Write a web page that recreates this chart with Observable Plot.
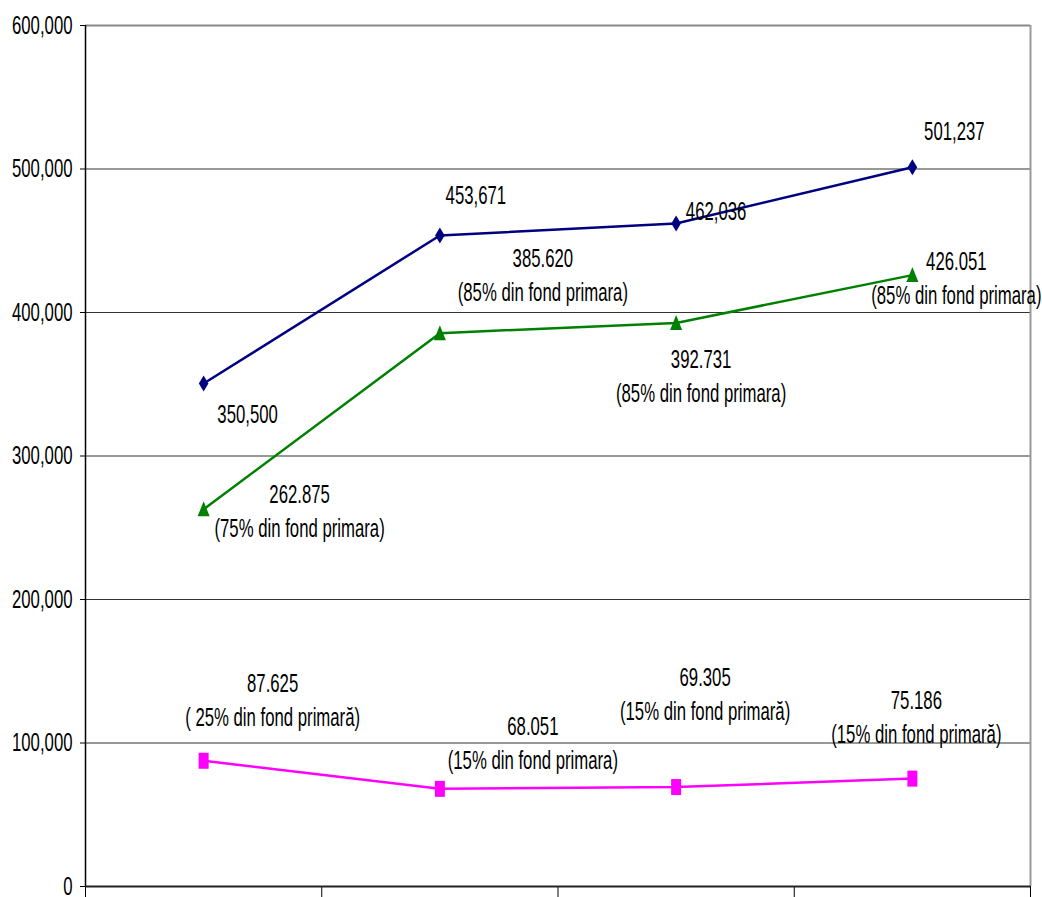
<!DOCTYPE html>
<html><head><meta charset="utf-8">
<script src="https://cdn.jsdelivr.net/npm/d3@7"></script>
<script src="https://cdn.jsdelivr.net/npm/@observablehq/plot@0.6"></script>
<style>
body{margin:0;background:#fff;}
#chart svg{display:block;}
</style>
</head><body><div id="chart"></div>
<script>
// ---- data ----
const categories = ["1", "2", "3", "4"];
const totalValues = [350500, 453671, 462036, 501237];
const primaryValues = [262875, 385620, 392731, 426051];
const secondaryValues = [87625, 68051, 69305, 75186];
const totalLabels = ["350,500", "453,671", "462,036", "501,237"];
const primaryLabels = [
  "262.875\n(75% din fond primara)",
  "385.620\n(85% din fond primara)",
  "392.731\n(85% din fond primara)",
  "426.051\n(85% din fond primara)"
];
const secondaryLabels = [
  "87.625\n( 25% din fond primară)",
  "68.051\n(15% din fond primara)",
  "69.305\n(15% din fond primară)",
  "75.186\n(15% din fond primară)"
];
const yTicks = [0, 100000, 200000, 300000, 400000, 500000, 600000];

// ---- layout (label offsets in px, relative to point) ----
const totalOffsets = [[44, 29], [36, -42], [40, -14], [42, -38]];
const primaryOffsets = [[96, 0], [103, -60], [25, 51], [44, 1]];
const secondaryOffsets = [[69, -63], [93, -48], [29, -95], [4, -63]];

const rows = (vals) => categories.map((c, i) => ({cat: c, x: i + 0.5, v: vals[i]}));
const totalRows = rows(totalValues);
const primaryRows = rows(primaryValues);
const secondaryRows = rows(secondaryValues);

const diamond = {draw(ctx){ctx.moveTo(0,-8);ctx.lineTo(4.8,0);ctx.lineTo(0,8);ctx.lineTo(-4.8,0);ctx.closePath();}};
const triangle = {draw(ctx){ctx.moveTo(0,-8);ctx.lineTo(6,7);ctx.lineTo(-6,7);ctx.closePath();}};
const square = {draw(ctx){ctx.rect(-5,-8,10,16);}};

const FONT = "'Liberation Sans',Arial,sans-serif";
const FS = 25;
const NARROW = 0.67;

function labelMarks(rowsArr, labels, offsets) {
  return rowsArr.map((r, i) => Plot.text([r], {
    x: "x", y: "v", text: () => labels[i],
    dx: offsets[i][0], dy: offsets[i][1],
    fill: "#000", fontSize: FS, lineHeight: 1.36, textAnchor: "middle", lineAnchor: "middle"
  }));
}

const chart = Plot.plot({
  width: 1042, height: 897,
  marginLeft: 85, marginRight: 12, marginTop: 25, marginBottom: 11,
  style: {fontFamily: FONT, fontSize: FS + "px", background: "#fff", color: "#000"},
  x: {type: "linear", domain: [0, 4], axis: null},
  y: {domain: [0, 600000], axis: null},
  marks: [
    Plot.ruleY(yTicks.filter(t => t > 0 && t < 600000), {stroke: "#333", strokeWidth: 1}),
    Plot.ruleY([600000], {stroke: "#888", strokeWidth: 2}),
    Plot.ruleX([4], {stroke: "#999", strokeWidth: 2}),
    Plot.axisY({ticks: yTicks, tickFormat: d3.format(","), tickSize: 5, tickPadding: 8, fontSize: FS, stroke: "#000", label: null}),
    Plot.axisX({ticks: [0, 1, 2, 3, 4], tickFormat: () => "", tickSize: 11, stroke: "#000", label: null}),
    Plot.ruleX([0], {stroke: "#000", strokeWidth: 1.5}),
    Plot.ruleY([0], {stroke: "#222", strokeWidth: 2}),
    Plot.line(totalRows, {x: "x", y: "v", stroke: "#000080", strokeWidth: 2.5}),
    Plot.line(primaryRows, {x: "x", y: "v", stroke: "#008000", strokeWidth: 2.5}),
    Plot.line(secondaryRows, {x: "x", y: "v", stroke: "#ff00ff", strokeWidth: 2.5}),
    Plot.dot(totalRows, {x: "x", y: "v", symbol: diamond, fill: "#000080", stroke: "none"}),
    Plot.dot(primaryRows, {x: "x", y: "v", symbol: triangle, fill: "#008000", stroke: "none"}),
    Plot.dot(secondaryRows, {x: "x", y: "v", symbol: square, fill: "#ff00ff", stroke: "none"}),
    ...labelMarks(totalRows, totalLabels, totalOffsets),
    ...labelMarks(primaryRows, primaryLabels, primaryOffsets),
    ...labelMarks(secondaryRows, secondaryLabels, secondaryOffsets)
  ]
});
// condense text horizontally (narrow, tall sans look of the original)
chart.querySelectorAll("text").forEach(t => {
  const x = +t.getAttribute("x") || 0;
  const tr = t.getAttribute("transform") || "";
  t.setAttribute("transform", `${tr} translate(${x},0) scale(${NARROW},1) translate(${-x},0)`);
});
document.getElementById("chart").appendChild(chart);
</script>
</body></html>
